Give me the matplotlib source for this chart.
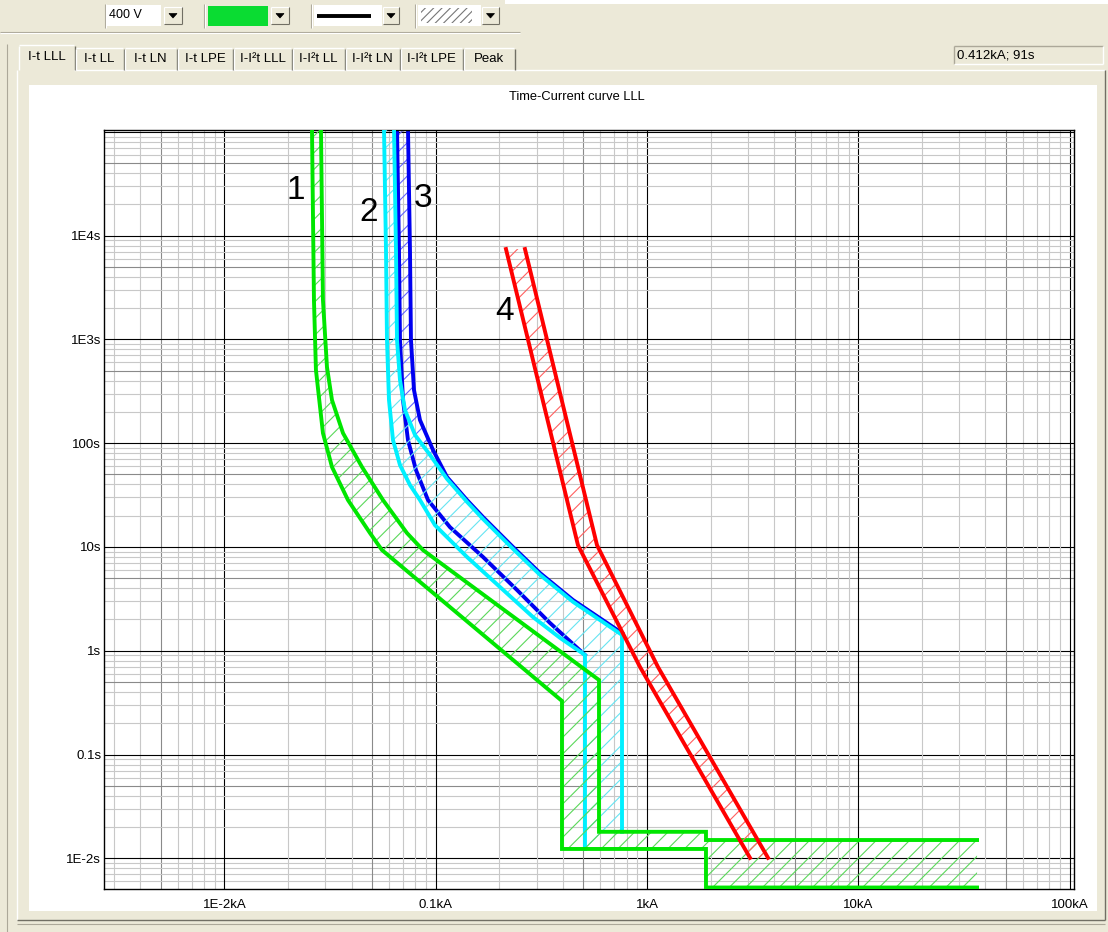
import matplotlib
matplotlib.use('Agg')
import matplotlib.pyplot as plt
from matplotlib.patches import Rectangle, Polygon
from matplotlib.ticker import NullLocator

plt.rcParams['font.family'] = ['Liberation Sans', 'DejaVu Sans']
plt.rcParams['hatch.linewidth'] = 0.8

# ---------------- data ----------------
x_lim = (0.00269, 105.0)          # kA
y_lim = (0.00506, 1.04e5)         # s

x_ticks = [0.01, 0.1, 1, 10, 100]
x_tick_labels = ['1E-2kA', '0.1kA', '1kA', '10kA', '100kA']
y_ticks = [0.01, 0.1, 1, 10, 100, 1000, 10000]
y_tick_labels = ['1E-2s', '0.1s', '1s', '10s', '100s', '1E3s', '1E4s']

# curve 1 (green)
g1_min_I = [0.02595, 0.02652, 0.02710, 0.02925, 0.03228, 0.03842, 0.04885, 0.05566, 0.3959, 0.3959, 1.902, 1.902, 36.5]
g1_min_t = [1.1e5, 2393, 506, 125, 58.9, 28.3, 13.6, 9.33, 0.328, 0.0123, 0.0123, 0.00523, 0.00523]
g1_max_I = [0.02862, 0.02925, 0.03056, 0.03228, 0.03639, 0.04477, 0.05627, 0.07309, 0.08702, 0.5927, 0.5927, 1.902, 1.902, 36.5]
g1_max_t = [1.1e5, 2393, 541, 260, 125, 58.9, 28.3, 13.6, 9.33, 0.522, 0.0180, 0.0180, 0.0150, 0.0150]

# curve 2 (cyan)
c2_min_I = [0.05689, 0.05815, 0.05878, 0.06008, 0.06276, 0.06773, 0.07552, 0.08421, 0.09918, 0.1406, 0.2014, 0.2886, 0.3875, 0.5087, 0.5087]
c2_min_t = [1.1e5, 7250, 985, 260, 107, 61.5, 39.5, 28.3, 16.2, 8.0, 4.11, 2.11, 1.33, 0.910, 0.0123]
c2_max_I = [0.06345, 0.06484, 0.06556, 0.06773, 0.07152, 0.07976, 0.09393, 0.1131, 0.1406, 0.1674, 0.2321, 0.3114, 0.4464, 0.7615, 0.7615]
c2_max_t = [1.1e5, 7250, 985, 405, 208, 120, 77, 45.2, 27.2, 18.6, 9.58, 5.39, 2.96, 1.42, 0.0180]

# curve 3 (blue)
b3_min_I = [0.06556, 0.06699, 0.06773, 0.06998, 0.07389, 0.08063, 0.0919, 0.1168, 0.1674, 0.2424, 0.3474, 0.5087]
b3_min_t = [1.1e5, 7250, 985, 260, 107, 55.1, 28.3, 15.5, 8.0, 3.85, 1.85, 0.910]
b3_max_I = [0.07389, 0.07552, 0.07634, 0.07889, 0.08421, 0.09705, 0.1131, 0.1406, 0.1674, 0.2321, 0.3114, 0.4464, 0.7615]
b3_max_t = [1.1e5, 7250, 985, 325, 167, 86, 47.1, 28.3, 19.4, 9.98, 5.61, 3.08, 1.48]

# curve 4 (red)
r4_min_I = [0.2150, 0.4713, 0.9266, 3.073]
r4_min_t = [7413, 10.4, 0.697, 0.0101]
r4_max_I = [0.2645, 0.5799, 1.127, 3.740]
r4_max_t = [7413, 10.4, 0.697, 0.0101]

curve_labels = ['1', '2', '3', '4']
label_I = [0.0218, 0.0483, 0.0870, 0.2128]
label_t = [27400, 16800, 22960, 1836]

tab_names = ['I-t LLL', 'I-t LL', 'I-t LN', 'I-t LPE', 'I-I²t LLL', 'I-I²t LL', 'I-I²t LN', 'I-I²t LPE', 'Peak']
status_text = '0.412kA; 91s'
voltage_text = '400 V'
title_text = 'Time-Current curve LLL'

# ---------------- figure / UI ----------------
W, H = 1108, 932
BG = '#ECE9D8'
DARK = '#716F64'
MID = '#ACA899'
fig = plt.figure(figsize=(W / 100, H / 100), dpi=100, facecolor=BG)
ui = fig.add_axes([0, 0, 1, 1])
ui.set_xlim(0, W)
ui.set_ylim(H, 0)
ui.axis('off')
ui.set_zorder(0)

def rect(x0, y0, x1, y1, fc, ec='none', lw=0, z=1):
    ui.add_patch(Rectangle((x0, y0), x1 - x0, y1 - y0, facecolor=fc, edgecolor=ec, lw=lw, zorder=z))

def hline(x0, x1, y, c, lw=0.8, z=2):
    ui.plot([x0, x1], [y, y], color=c, lw=lw, zorder=z, solid_capstyle='butt')

def vline(x, y0, y1, c, lw=0.8, z=2):
    ui.plot([x, x], [y0, y1], color=c, lw=lw, zorder=z, solid_capstyle='butt')

def button(x0, y0, x1, y1):
    rect(x0, y0, x1, y1, BG)
    hline(x0, x1, y0, 'white'); vline(x0, y0, y1, 'white')
    hline(x0, x1, y1, DARK); vline(x1, y0, y1, DARK)
    cx, cy = (x0 + x1) / 2, (y0 + y1) / 2
    ui.add_patch(Polygon([[cx - 4, cy - 2], [cx + 4, cy - 2], [cx, cy + 2.5]], closed=True,
                         facecolor='black', edgecolor='black', lw=0.5, zorder=3))

# top white strip
rect(505, 0, W, 4, 'white')
# toolbar separators
for sx in [105, 204, 311, 415]:
    vline(sx, 4, 28, MID, lw=0.8)
    vline(sx + 1.2, 4, 28, 'white', lw=0.8)
# toolbar widgets
rect(107, 5, 161, 26, 'white')
ui.text(109, 15.5, voltage_text, fontsize=9, va='center', ha='left', zorder=3)
button(164, 7, 182, 24)
rect(208, 6, 268, 26, '#0ADC32')
button(271, 7, 289, 24)
rect(314, 5, 382, 26, 'white')
hline(317, 371, 16, 'black', lw=2.8, z=3)
button(383, 7, 399, 24)
rect(418, 5, 481, 26, 'white')
ui.add_patch(Rectangle((421, 8), 51, 15, facecolor='none', edgecolor='#777777', lw=0, hatch='////', zorder=3))
button(482, 7, 499, 24)
hline(0, 520, 32, MID, lw=0.8)
hline(0, 520, 33.3, 'white', lw=0.8)

# tab page frame
vline(7, 44, 932, MID, lw=0.8)
rect(17, 70, 1105, 920, BG)
hline(74, 1105, 70, 'white', lw=1.0)
vline(17, 70, 920, 'white', lw=1.0)
vline(1105, 70, 920, DARK, lw=1.0)
hline(17, 1105, 920, DARK, lw=1.0)
hline(17, 1105, 924, MID, lw=0.8)
# white plot panel
rect(29, 85, 1097, 911, 'white', z=1.5)

# tabs
tab_edges = [18, 75, 124, 177, 233, 292, 345, 400, 463, 515]
for i, name in enumerate(tab_names):
    x0, x1 = tab_edges[i], tab_edges[i + 1]
    top = 45 if i == 0 else 48
    if i == 0:
        rect(x0, top, x1, 71, BG, z=1.6)
    vline(x0 + 0.5, top + 1, 70, 'white', lw=1.0)
    hline(x0 + 1, x1 - 1, top, 'white', lw=1.0)
    vline(x1 - 0.5, top + 1, 70, DARK, lw=1.0)
    ui.text((x0 + x1) / 2, 59 if i else 57.5, name, fontsize=9.5, ha='center', va='center', zorder=3)

# status box
rect(954, 46, 1103, 64, BG)
hline(954, 1103, 46, MID, lw=1.0); vline(954, 46, 64, MID, lw=1.0)
hline(954, 1103, 64, 'white', lw=1.0); vline(1103, 46, 64, 'white', lw=1.0)
ui.text(957, 55.5, status_text, fontsize=9.5, ha='left', va='center', zorder=3)

# title
ui.text(577, 97, title_text, fontsize=9.3, ha='center', va='center', zorder=3)

# ---------------- chart axes ----------------
L, R, T, B = 104, 1074, 130, 889
ax = fig.add_axes([L / W, (H - B) / H, (R - L) / W, (B - T) / H])
ax.set_zorder(2)
ax.set_facecolor('white')
ax.set_xscale('log')
ax.set_yscale('log')
ax.set_xlim(*x_lim)
ax.set_ylim(*y_lim)
ax.xaxis.set_minor_locator(NullLocator())
ax.yaxis.set_minor_locator(NullLocator())
ax.set_xticks(x_ticks)
ax.set_xticklabels(x_tick_labels)
ax.set_yticks(y_ticks)
ax.set_yticklabels(y_tick_labels)
ax.tick_params(axis='both', length=0, labelsize=9.5)
ax.tick_params(axis='x', pad=7)
ax.tick_params(axis='y', pad=2)
for sp in ax.spines.values():
    sp.set_color('black')
    sp.set_linewidth(1.0)

# grid
for d in range(-3, 6):
    for m in range(1, 10):
        v = m * 10.0 ** d
        if m == 1:
            c, lw = '#000000', 0.8
        elif m == 5:
            c, lw = '#8A8A8A', 0.8
        else:
            c, lw = '#C8C8C8', 0.8
        if x_lim[0] < v < x_lim[1]:
            ax.axvline(v, color=c, lw=lw, zorder=0.5)
        if y_lim[0] < v < y_lim[1]:
            ax.axhline(v, color=c, lw=lw, zorder=0.5)

LW = 2.8

def band(Imin, tmin, Imax, tmax, line_c, hatch_c, z, clip=None):
    xs = list(Imin) + list(Imax)[::-1]
    ys = list(tmin) + list(tmax)[::-1]
    patches = ax.fill(xs, ys, facecolor='none', edgecolor=hatch_c, hatch='//', linewidth=0, zorder=z)
    if clip is not None:
        for p in patches:
            p.set_clip_path(clip)
    ax.plot(Imin, tmin, color=line_c, lw=LW, zorder=z + 0.5, solid_joinstyle='miter')
    ax.plot(Imax, tmax, color=line_c, lw=LW, zorder=z + 0.5, solid_joinstyle='miter')

# blue hatch only where the cyan band does not cover it (right of the cyan max line)
clip_xy = list(zip(c2_max_I, c2_max_t)) + [(1e3, c2_max_t[-1]), (1e3, 1e7), (c2_max_I[0], 1e7)]
clip_poly = Polygon(clip_xy, closed=True, transform=ax.transData)

band(b3_min_I, b3_min_t, b3_max_I, b3_max_t, '#0000F0', '#6464FF', 2, clip=clip_poly)
band(c2_min_I, c2_min_t, c2_max_I, c2_max_t, '#00F0FF', '#66E4F2', 3)
band(g1_min_I, g1_min_t, g1_max_I, g1_max_t, '#00E600', '#5AD85A', 4)
band(r4_min_I, r4_min_t, r4_max_I, r4_max_t, '#FF0000', '#FF6060', 5)

for s, xi, ti in zip(curve_labels, label_I, label_t):
    ax.text(xi, ti, s, fontsize=24, ha='center', va='center', zorder=8)

fig.savefig('out.png', dpi=100, facecolor=BG)
